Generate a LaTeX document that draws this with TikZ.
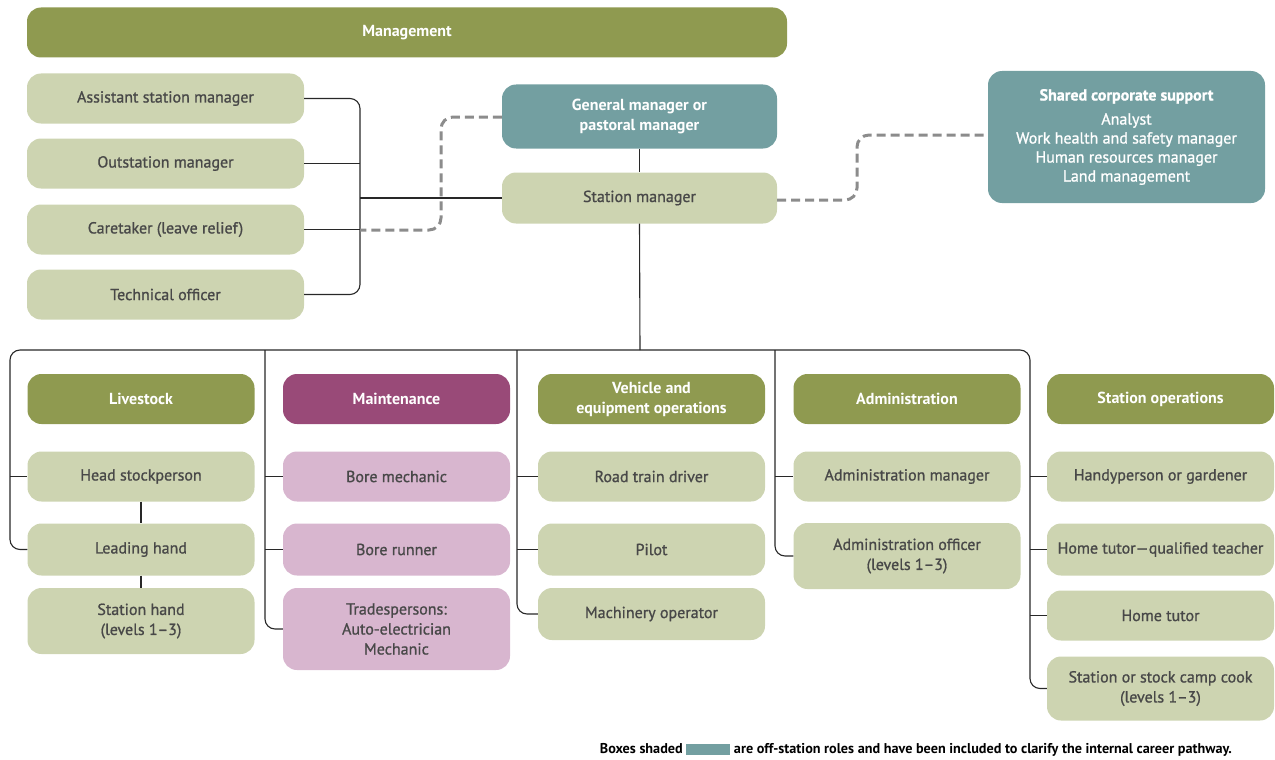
\documentclass[tikz,border=0pt]{standalone}
\usepackage{fontspec}
\setmainfont{PT Sans}
\definecolor{olive}{RGB}{143,154,80}
\definecolor{lolive}{RGB}{205,212,177}
\definecolor{teal}{RGB}{115,159,161}
\definecolor{plum}{RGB}{153,74,120}
\definecolor{pink}{RGB}{216,182,207}
\definecolor{txt}{RGB}{72,72,72}
\definecolor{dash}{RGB}{140,140,140}
\definecolor{wire}{RGB}{40,40,40}
\newcommand\semibold{\addfontfeature{FakeBold=1}}
\tikzset{
  base/.style={rounded corners=14pt, align=center, inner sep=0pt, font=\fontsize{16}{20}\selectfont\semibold, minimum height=50pt},
  head/.style={base, fill=olive, text=white, font=\fontsize{16}{20}\selectfont\bfseries},
  role/.style={base, fill=lolive, text=txt},
  mrole/.style={base, fill=pink, text=txt},
  offsite/.style={base, fill=teal, text=white},
  wcol/.style={minimum width=227pt},
  conn/.style={draw=wire, line width=1.1pt, rounded corners=10pt},
  link/.style={draw=dash, line width=3pt, dash pattern=on 9pt off 5pt, rounded corners=12pt},
}
\begin{document}
\begin{tikzpicture}[x=1pt,y=-1pt]
\useasboundingbox (0,0) rectangle (1275,760);

% top band
\node[head, minimum width=760pt] (mgmt) at (407,32.5) {Management};

% roles reporting to the station manager
\node[role, minimum width=277pt] (asm) at (165.5,98.5) {Assistant station manager};
\node[role, minimum width=277pt] (osm) at (165.5,163.5) {Outstation manager};
\node[role, minimum width=277pt] (care) at (165.5,229.5) {Caretaker (leave relief)};
\node[role, minimum width=277pt] (tech) at (165.5,294.5) {Technical officer};

\node[offsite, minimum width=275pt, minimum height=64pt, font=\fontsize{16}{20}\selectfont\bfseries] (gm) at (639.5,116.5) {General manager or\\pastoral manager};
\node[role, minimum width=275pt, minimum height=51pt] (sm) at (639.5,198) {Station manager};

\node[offsite, minimum width=277pt, minimum height=132pt, font=\fontsize{16}{19}\selectfont\semibold] (shared) at (1126.5,137)
  {\textbf{Shared corporate support}\\[5pt]Analyst\\Work health and safety manager\\Human resources manager\\Land management};

% section headers
\node[head, wcol] (live) at (141,399) {Livestock};
\node[head, wcol, fill=plum] (mnt) at (396.5,399) {Maintenance};
\node[head, wcol] (veh) at (651.5,399) {Vehicle and\\equipment operations};
\node[head, wcol] (adm) at (907,399) {Administration};
\node[head, wcol] (ops) at (1160.5,399) {Station operations};

% livestock
\node[role, wcol] (head) at (141,476.5) {Head stockperson};
\node[role, wcol, minimum height=52pt] (lead) at (141,549.5) {Leading hand};
\node[role, wcol, minimum height=66pt] (shand) at (141,621) {Station hand\\(levels 1–3)};

% maintenance
\node[mrole, wcol] (bmech) at (396.5,476.5) {Bore mechanic};
\node[mrole, wcol, minimum height=52pt] (brun) at (396.5,549.5) {Bore runner};
\node[mrole, wcol, minimum height=82pt] (trade) at (396.5,629) {Tradespersons:\\Auto-electrician\\Mechanic};

% vehicle and equipment operations
\node[role, wcol] (road) at (651.5,476.5) {Road train driver};
\node[role, wcol, minimum height=52pt] (pilot) at (651.5,549.5) {Pilot};
\node[role, wcol, minimum height=52pt] (mach) at (651.5,614) {Machinery operator};

% administration
\node[role, wcol] (amgr) at (907,476.5) {Administration manager};
\node[role, wcol, minimum height=66pt] (aoff) at (907,556) {Administration officer\\(levels 1–3)};

% station operations
\node[role, wcol] (handy) at (1160.5,476.5) {Handyperson or gardener};
\node[role, wcol, minimum height=52pt] (qtut) at (1160.5,549.5) {Home tutor—qualified teacher};
\node[role, wcol] (tut) at (1160.5,615.5) {Home tutor};
\node[role, wcol, minimum height=64pt] (cook) at (1160.5,688.5) {Station or stock camp cook\\(levels 1–3)};

% bracket joining the left-hand roles
\coordinate (brk) at (360,198);
\draw[conn] (asm.east) -- (asm.east -| brk) -- (tech.east -| brk) -- (tech.east);
\draw[conn] (osm.east) -- (osm.east -| brk);
\draw[conn] (care.east) -- (care.east -| brk);
\draw[conn] (brk) -- (sm.west);
\draw[conn] (gm.south) -- (sm.north);

% bus to the five sections
\coordinate (bus) at (640,350);
\coordinate (c1) at (10,350);
\coordinate (c2) at (265,350);
\coordinate (c3) at (517,350);
\coordinate (c4) at (775,350);
\coordinate (c5) at (1030,350);
\draw[conn] (sm.south) -- (bus);
\draw[conn] (lead.west) -- (lead.west -| c1) -- (c1) -- (c5) -- (cook.west -| c5) -- (cook.west);
\draw[conn] (head.west -| c1) -- (head.west);
\draw[conn] (c2) -- (trade.west -| c2) -- (trade.west);
\draw[conn] (bmech.west -| c2) -- (bmech.west);
\draw[conn] (brun.west -| c2) -- (brun.west);
\draw[conn] (c3) -- (mach.west -| c3) -- (mach.west);
\draw[conn] (road.west -| c3) -- (road.west);
\draw[conn] (pilot.west -| c3) -- (pilot.west);
\draw[conn] (c4) -- (aoff.west -| c4) -- (aoff.west);
\draw[conn] (amgr.west -| c4) -- (amgr.west);
\draw[conn] (handy.west -| c5) -- (handy.west);
\draw[conn] (qtut.west -| c5) -- (qtut.west);
\draw[conn] (tut.west -| c5) -- (tut.west);
\draw[conn] (head.south) -- (lead.north);
\draw[conn] (lead.south) -- (shand.north);

% off-station links
\coordinate (dl) at (360,230);
\draw[link] (gm.west |- 0,117) -- (441,117) -- (441,230) -- (dl);
\draw[link] (sm.east |- 0,200) -- (857,200) -- (857,135) -- (shared.west |- 0,135);

% key
\node[anchor=east, inner sep=0pt, text=black, font=\fontsize{14.2}{16}\selectfont\bfseries] (key) at (1232,750)
  {Boxes shaded \textcolor{teal}{\rule[-1pt]{44pt}{11pt}} are off-station roles and have been included to clarify the internal career pathway.};
\end{tikzpicture}
\end{document}
